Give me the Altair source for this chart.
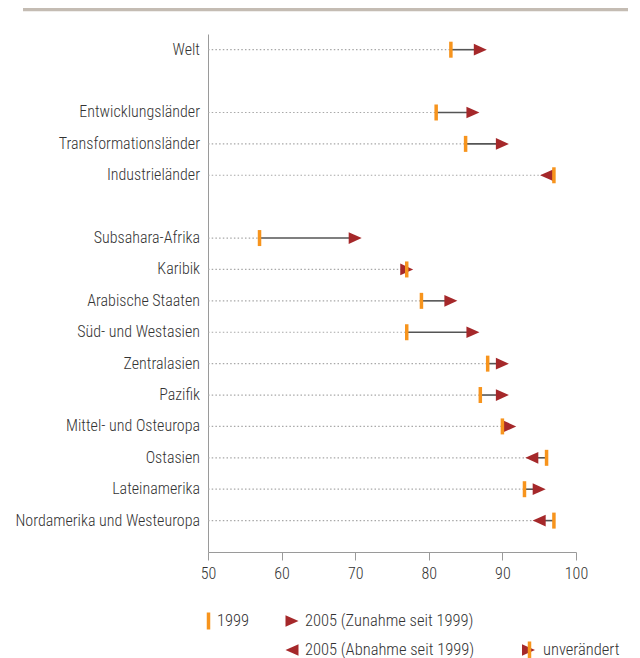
import altair as alt
import pandas as pd

FONT = "Roboto Condensed, Liberation Sans Narrow, DejaVu Sans Condensed, sans-serif"

# ---- data ----
welt = ["Welt"]
welt_1999 = [83]
welt_2005 = [87]

gruppen = ["Entwicklungsländer", "Transformationsländer", "Industrieländer"]
gruppen_1999 = [81, 85, 97]
gruppen_2005 = [86, 90, 96]

regionen = ["Subsahara-Afrika", "Karibik", "Arabische Staaten\u00a0", "Süd- und Westasien",
            "Zentralasien", "Pazifik", "Mittel- und Osteuropa", "Ostasien",
            "Lateinamerika", "Nordamerika und Westeuropa"]
regionen_1999 = [57, 77, 79, 77, 88, 87, 90, 96, 93, 97]
regionen_2005 = [70, 77, 83, 86, 90, 90, 91, 94, 95, 95]

x_ticks = [50, 60, 70, 80, 90, 100]

legend_labels = ["1999", "2005 (Zunahme seit 1999)", "2005 (Abnahme seit 1999)", "unverändert"]

# ---- table ----
recs = []
r = 0
for names, a, b in [(welt, welt_1999, welt_2005),
                    (gruppen, gruppen_1999, gruppen_2005),
                    (regionen, regionen_1999, regionen_2005)]:
    for n, v1, v2 in zip(names, a, b):
        d = "up" if v2 > v1 else ("down" if v2 < v1 else "same")
        recs.append(dict(name=n, row=r, v1999=v1, v2005=v2,
                         lo=min(v1, v2), hi=max(v1, v2), dir=d))
        r += 1
    r += 1
df = pd.DataFrame(recs)

RIGHT = "M-1,-0.9L1,0L-1,0.9Z"
LEFT = "M1,-0.9L-1,0L1,0.9Z"
ORANGE = "#F7941D"
RED = "#A5282A"
GREY = "#9a9a9a"
TEXT = "#333333"
FS = 16
FW = 300

xscale = alt.Scale(domain=[50, 100], nice=False, zero=False)
yscale = alt.Scale(domain=[-0.5, 16], reverse=True, nice=False, zero=False)

base = alt.Chart(df)

xaxis = alt.Axis(values=x_ticks, title=None, grid=False, domainColor=GREY, tickColor=GREY,
                 tickSize=8, labelFontSize=FS, labelColor=TEXT, labelPadding=5,
                 labelFont=FONT, labelFontWeight=FW, labelFlush=False, labelOverlap=False)
yaxis = alt.Axis(title=None, grid=False, ticks=False, labels=False, domainColor=GREY)

dotted = base.mark_rule(color="#a8a8a8", strokeWidth=1.2, strokeDash=[1.5, 2.2]).encode(
    x=alt.X("base:Q", scale=xscale, axis=xaxis),
    x2="lo:Q",
    y=alt.Y("row:Q", scale=yscale, axis=yaxis),
).transform_calculate(base="50")

names_text = base.mark_text(align="right", baseline="middle", fontSize=FS, color=TEXT,
                            font=FONT, fontWeight=FW, dx=-8).encode(
    x=alt.value(0), y=alt.Y("row:Q", scale=yscale), text="name:N")

solid = base.mark_rule(color="#555555", strokeWidth=1.6).encode(
    x=alt.X("lo:Q", scale=xscale), x2="hi:Q", y=alt.Y("row:Q", scale=yscale))

tri = base.mark_point(filled=True, opacity=1, size=169, color=RED, strokeWidth=0).encode(
    x=alt.X("v2005:Q", scale=xscale),
    y=alt.Y("row:Q", scale=yscale),
    shape=alt.Shape("dir:N", scale=alt.Scale(domain=["up", "same", "down"],
                                             range=[RIGHT, RIGHT, LEFT]), legend=None),
)

tick = base.mark_tick(orient="vertical", thickness=3.5, size=16, color=ORANGE, opacity=1).encode(
    x=alt.X("v1999:Q", scale=xscale), y=alt.Y("row:Q", scale=yscale))

# decorative top bar
bar = alt.Chart(pd.DataFrame({"a": [0]})).mark_rule(color="#c4bcb3", strokeWidth=5.5).encode(
    x=alt.value(-185), x2=alt.value(420), y=alt.value(-25.5))

# legend (pixel positions relative to plot origin)
leg_sym = pd.DataFrame({
    "kind": ["tick", "right", "left", "right", "tick"],
    "px": [0.5, 84, 84, 320.5, 321.5],
    "py": [587, 587, 616, 616, 616],
})
leg_txt = pd.DataFrame({
    "label": legend_labels,
    "px": [9, 97, 97, 335],
    "py": [587, 587, 616, 616],
})
leg_tri = alt.Chart(leg_sym).transform_filter("datum.kind != 'tick'").mark_point(
    filled=True, opacity=1, size=169, color=RED, strokeWidth=0).encode(
    x=alt.X("px:Q", scale=None), y=alt.Y("py:Q", scale=None),
    shape=alt.Shape("kind:N", scale=alt.Scale(domain=["right", "left"], range=[RIGHT, LEFT]),
                    legend=None))
leg_tick = alt.Chart(leg_sym).transform_filter("datum.kind == 'tick'").mark_tick(
    orient="vertical", thickness=3.5, size=17, color=ORANGE, opacity=1).encode(
    x=alt.X("px:Q", scale=None), y=alt.Y("py:Q", scale=None))
leg_text = alt.Chart(leg_txt).mark_text(align="left", baseline="middle", fontSize=16.5,
                                        color=TEXT, font=FONT, fontWeight=FW).encode(
    x=alt.X("px:Q", scale=None), y=alt.Y("py:Q", scale=None), text="label:N")

chart = alt.layer(dotted, names_text, solid, tri, tick, bar, leg_tri, leg_tick, leg_text).resolve_scale(
    shape="independent"
).properties(
    width=368, height=518, autosize="none",
    padding={"left": 200, "top": 26, "right": 54, "bottom": 106},
).configure(font=FONT, view=alt.ViewConfig(stroke=None))

chart.save("out.html", embed_options={"renderer": "svg", "actions": False})
